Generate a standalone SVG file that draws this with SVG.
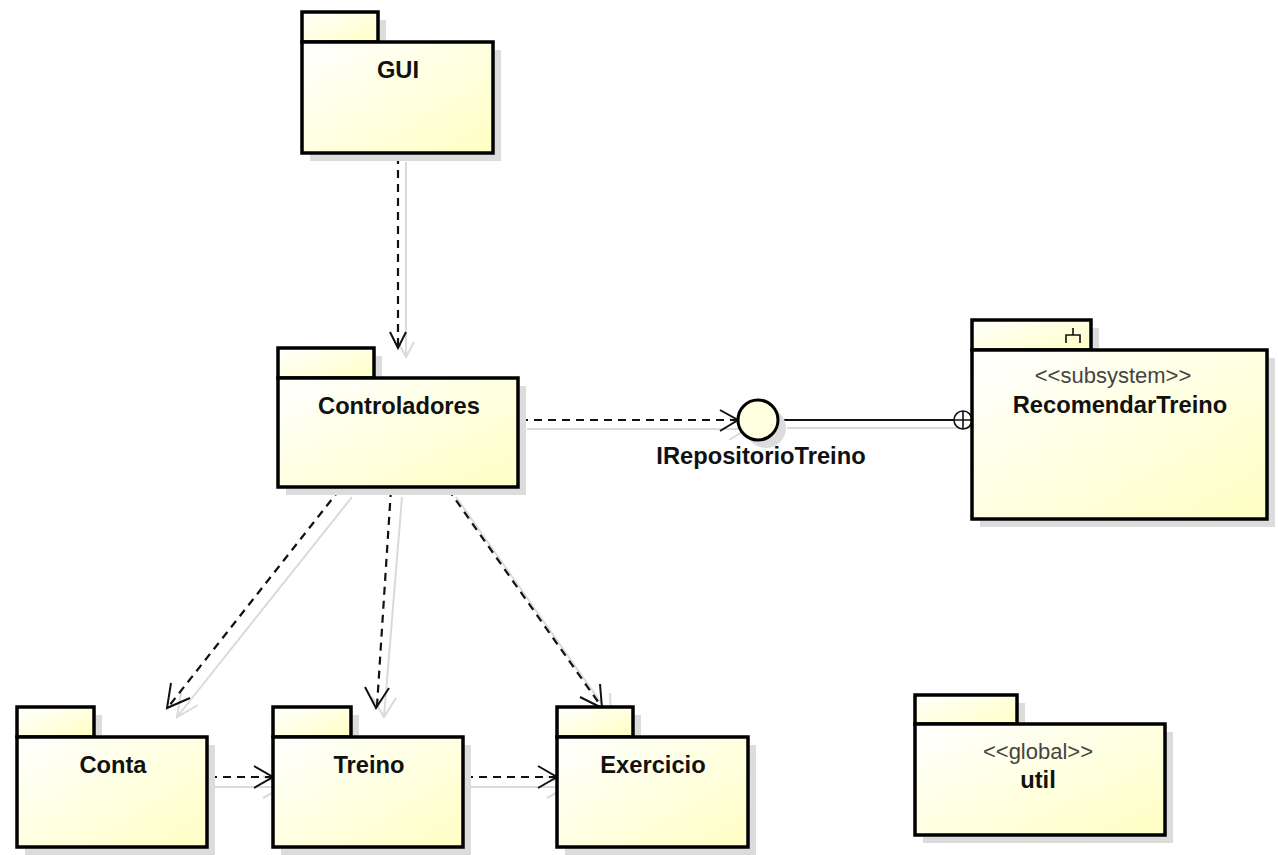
<svg xmlns="http://www.w3.org/2000/svg" width="1278" height="855" viewBox="0 0 1278 855">
  <defs>
    <linearGradient id="pkgFill" x1="0" y1="0" x2="1" y2="1">
      <stop offset="0" stop-color="#ffffff"/>
      <stop offset="1" stop-color="#ffffc4"/>
    </linearGradient>
    <style>
      .shadow { fill: #dcdcdc; stroke: none; }
      .box { fill: url(#pkgFill); stroke: #000; stroke-width: 3.5; }
      .name { font-family: "Liberation Sans", Arial, sans-serif; font-size: 23.7px; font-weight: bold; fill: #111; text-anchor: middle; }
      .stereo { font-family: "Liberation Sans", Arial, sans-serif; font-size: 22px; fill: #444; text-anchor: middle; }
      .dep { fill: none; stroke: #111; stroke-width: 2.2; stroke-dasharray: 8 6; }
      .head { fill: none; stroke: #111; stroke-width: 2; }
      .ghost { fill: none; stroke: #dadada; stroke-width: 2; }
    </style>
  </defs>

  <!-- connectors: dependencies, interface realization and their soft shadows -->
  <g id="connectors">
    <!-- shadows -->
    <g class="ghost">
      <path d="M406 162 V356 M398 342 L406 357 L414 342"/>
      <path d="M527 429 H747 M729 418 L747 429 L729 440"/>
      <path d="M787 428 H982"/>
      <path d="M352 497 L177 717 M181 693 L177 717 L198 705"/>
      <path d="M402 497 L384 717 M372 697 L384 717 L396 698"/>
      <path d="M456 497 L611 717 M610 693 L611 717 L589 706"/>
      <path d="M215 787 H283 M263 776 L283 787 L263 798"/>
      <path d="M471 787 H567 M547 776 L567 787 L547 798"/>
    </g>
    <!-- GUI -> Controladores -->
    <path class="dep" d="M398 156 V346"/>
    <path class="head" d="M390 332 L398 348 L406 332"/>
    <!-- Controladores -> IRepositorioTreino -->
    <path class="dep" d="M520 420 H736"/>
    <path class="head" d="M720 410 L738 420 L720 431"/>
    <!-- IRepositorioTreino provided by RecomendarTreino -->
    <path class="head" d="M778 420 H972"/>
    <circle cx="963" cy="420" r="9" fill="#fff" stroke="#111" stroke-width="1.6"/>
    <path d="M954 420 H972 M963 411 V429" stroke="#111" stroke-width="1.6"/>
    <!-- Controladores -> Conta -->
    <path class="dep" d="M340 489 L169 706"/>
    <path class="head" d="M171 683 L167 708 L190 698"/>
    <!-- Controladores -> Treino -->
    <path class="dep" d="M391 489 L377 706"/>
    <path class="head" d="M365 687 L376 708 L389 688"/>
    <!-- Controladores -> Exercicio -->
    <path class="dep" d="M448 489 L601 706"/>
    <path class="head" d="M600 684 L602 708 L580 697"/>
    <!-- Conta -> Treino -->
    <path class="dep" d="M209 777 H271"/>
    <path class="head" d="M254 766 L273 777 L254 788"/>
    <!-- Treino -> Exercicio -->
    <path class="dep" d="M465 777 H555"/>
    <path class="head" d="M538 766 L557 777 L538 788"/>
  </g>

  <!-- interface lollipop -->
  <g id="IRepositorioTreino">
    <circle cx="766" cy="428" r="20" fill="#dcdcdc"/>
    <circle cx="758" cy="420" r="20" fill="#ffffe0" stroke="#000" stroke-width="3"/>
    <text class="name" x="761" y="464">IRepositorioTreino</text>
  </g>

  <g id="GUI">
    <rect class="shadow" x="310" y="20" width="76" height="30"/>
    <rect class="shadow" x="310" y="50" width="191" height="111"/>
    <rect class="box" x="302" y="12" width="76" height="30"/>
    <rect class="box" x="302" y="42" width="191" height="111"/>
    <text class="name" x="398" y="78">GUI</text>
  </g>

  <g id="Controladores">
    <rect class="shadow" x="286" y="356" width="96" height="30"/>
    <rect class="shadow" x="286" y="386" width="240" height="109"/>
    <rect class="box" x="278" y="348" width="96" height="30"/>
    <rect class="box" x="278" y="378" width="240" height="109"/>
    <text class="name" x="399" y="414">Controladores</text>
  </g>

  <g id="RecomendarTreino">
    <rect class="shadow" x="980" y="328" width="119" height="30"/>
    <rect class="shadow" x="980" y="358" width="295" height="169"/>
    <rect class="box" x="972" y="320" width="119" height="30"/>
    <rect class="box" x="972" y="350" width="295" height="169"/>
    <!-- subsystem fork icon -->
    <path d="M1073 328 V335 M1066 343 V335 H1080 V343" fill="none" stroke="#111" stroke-width="1.6"/>
    <text class="stereo" x="1113" y="383">&lt;&lt;subsystem&gt;&gt;</text>
    <text class="name" x="1120" y="413">RecomendarTreino</text>
  </g>

  <g id="Conta">
    <rect class="shadow" x="25" y="715" width="77" height="30"/>
    <rect class="shadow" x="25" y="745" width="190" height="110"/>
    <rect class="box" x="17" y="707" width="77" height="30"/>
    <rect class="box" x="17" y="737" width="190" height="110"/>
    <text class="name" x="113" y="773">Conta</text>
  </g>

  <g id="Treino">
    <rect class="shadow" x="281" y="715" width="78" height="30"/>
    <rect class="shadow" x="281" y="745" width="190" height="110"/>
    <rect class="box" x="273" y="707" width="78" height="30"/>
    <rect class="box" x="273" y="737" width="190" height="110"/>
    <text class="name" x="369" y="773">Treino</text>
  </g>

  <g id="Exercicio">
    <rect class="shadow" x="565" y="715" width="76" height="30"/>
    <rect class="shadow" x="565" y="745" width="191" height="110"/>
    <rect class="box" x="557" y="707" width="76" height="30"/>
    <rect class="box" x="557" y="737" width="191" height="110"/>
    <text class="name" x="653" y="773">Exercicio</text>
  </g>

  <g id="util">
    <rect class="shadow" x="923" y="703" width="102" height="29"/>
    <rect class="shadow" x="923" y="732" width="250" height="111"/>
    <rect class="box" x="915" y="695" width="102" height="29"/>
    <rect class="box" x="915" y="724" width="250" height="111"/>
    <text class="stereo" x="1038" y="759">&lt;&lt;global&gt;&gt;</text>
    <text class="name" x="1038" y="788">util</text>
  </g>
</svg>
